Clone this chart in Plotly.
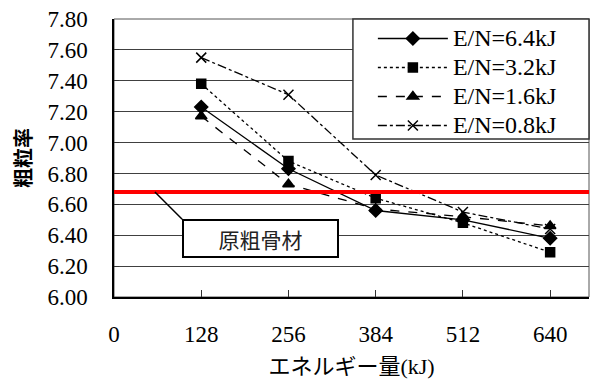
import plotly.graph_objects as go

# Applied energy (kJ) and fineness modulus for each E/N condition
energy = [128, 256, 384, 512, 640]
fm_64 = [7.23, 6.83, 6.56, 6.50, 6.38]
fm_32 = [7.38, 6.88, 6.64, 6.48, 6.29]
fm_16 = [7.17, 6.73, 6.57, 6.52, 6.46]
fm_08 = [7.55, 7.31, 6.79, 6.55, 6.44]
original_fm = 6.68

x_ticks = [0, 128, 256, 384, 512, 640]
y_ticks = [6.0, 6.2, 6.4, 6.6, 6.8, 7.0, 7.2, 7.4, 7.6, 7.8]

serif = "Liberation Serif, Times New Roman, serif"
gothic = "Noto Sans CJK JP, sans-serif"

series = [
    ("E/N=6.4kJ", fm_64, "solid", "diamond", 10),
    ("E/N=3.2kJ", fm_32, "dot", "square", 9),
    ("E/N=1.6kJ", fm_16, "dash", "triangle-up", 10),
    ("E/N=0.8kJ", fm_08, "dashdot", "x-thin", 10),
]

fig = go.Figure()
for name, vals, dash, sym, size in series:
    fig.add_trace(go.Scatter(
        x=energy, y=vals, mode="lines+markers",
        # legend rows are spaced by the legend font size; the label itself is larger
        name=f"<span style='font-size:24px'>{name}</span>",
        line=dict(color="black", width=1.3, dash=dash),
        marker=dict(symbol=sym, size=size, color="black",
                    line=dict(color="black", width=1.5)),
    ))

# Original coarse aggregate reference line
fig.add_shape(type="line", xref="paper", x0=0, x1=1, y0=original_fm, y1=original_fm,
              line=dict(color="#ff0000", width=4), layer="above")
# Leader line to the label box
fig.add_shape(type="line", x0=60, y0=original_fm, x1=100, y1=6.503,
              line=dict(color="black", width=1.5))
fig.add_annotation(x=215, y=6.377, text="原粗骨材", showarrow=False,
                   font=dict(family=gothic, size=21, color="#222"),
                   bordercolor="black", borderwidth=2, bgcolor="white",
                   width=151, height=33)

# Plot area frame (top/right)
fig.add_shape(type="rect", xref="paper", yref="paper", x0=0, x1=1, y0=0, y1=1,
              line=dict(color="#555", width=1), layer="below")
# Legend frame
fig.add_shape(type="rect", xref="paper", yref="paper", x0=0.503, x1=1, y0=0.568, y1=1,
              line=dict(color="#333", width=1.5), fillcolor="white", layer="above")

fig.update_layout(
    width=590, height=387,
    margin=dict(l=114, r=1, t=19, b=90),
    paper_bgcolor="white", plot_bgcolor="white",
    showlegend=True,
    legend=dict(x=0.545, y=1.0, xanchor="left", yanchor="top",
                borderwidth=0, bgcolor="rgba(0,0,0,0)",
                font=dict(family=serif, size=20, color="black"),
                itemwidth=70, tracegroupgap=0),
)
fig.update_xaxes(
    range=[0, 697], tickvals=x_ticks, ticktext=[str(v) for v in x_ticks],
    showgrid=False, zeroline=False, showline=True, linecolor="black", linewidth=1.5,
    ticks="inside", ticklen=7, tickcolor="#333",
    ticklabelstandoff=16,
    tickfont=dict(family=serif, size=23, color="black"),
    title=dict(text="エネルギー量<span style='font-family:Liberation Serif'>(kJ)</span>",
               font=dict(family=gothic, size=22, color="black"), standoff=12),
)
fig.update_yaxes(
    range=[6.0, 7.8], tickvals=y_ticks, ticktext=[f"{v:.2f}" for v in y_ticks],
    showgrid=True, gridcolor="#404040", gridwidth=1, zeroline=False,
    showline=True, linecolor="black", linewidth=1.5,
    ticks="inside", ticklen=5, tickcolor="#333",
    ticklabelstandoff=20,
    tickfont=dict(family=serif, size=23, color="black"),
    title=dict(text="<b>粗粒率</b>", font=dict(family=gothic, size=20, color="black"),
               standoff=10),
)

fig.write_html("out.html")
